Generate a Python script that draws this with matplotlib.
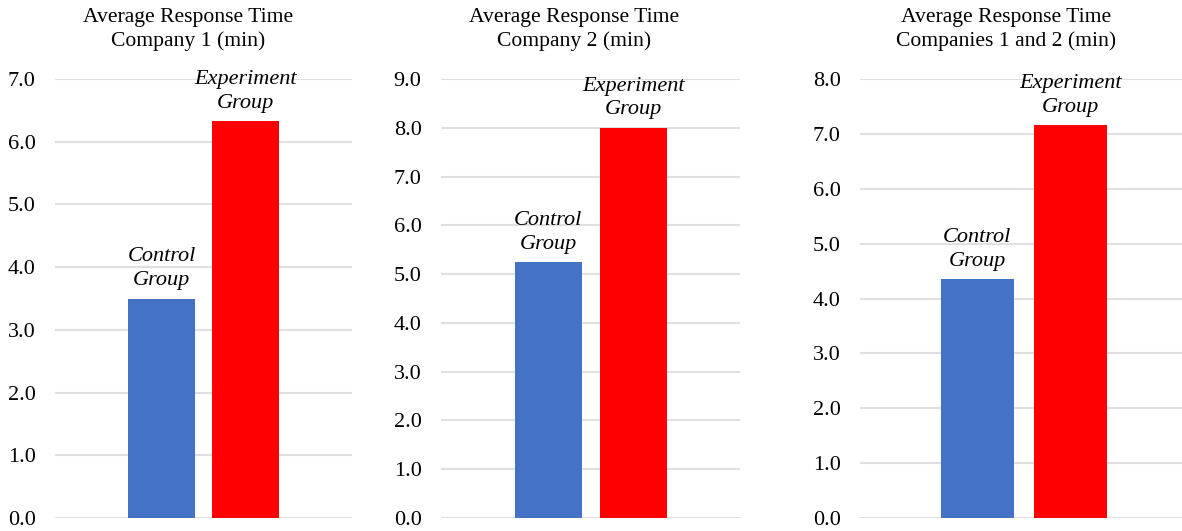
import matplotlib.pyplot as plt

plt.rcParams['font.family'] = ['Liberation Serif', 'DejaVu Serif']

titles = ["Average Response Time\nCompany 1 (min)",
          "Average Response Time\nCompany 2 (min)",
          "Average Response Time\nCompanies 1 and 2 (min)"]
groups = ["Control\nGroup", "Experiment\nGroup"]
control = [3.5, 5.25, 4.35]
experiment = [6.33, 8.0, 7.16]
ymax = [7, 9, 8]

colors = ["#4472C4", "#FF0000"]

fig = plt.figure(figsize=(11.82, 5.31), dpi=100)

boxes = [(55, 352), (441, 740), (860, 1182)]
xlims = [(-1.27, 2.27), (-1.26, 2.25), (-1.25, 2.19)]
widths = [0.8, 0.79, 0.78]
title_x = [188, 574, 1006]

W, H = 1182, 531
for i in range(3):
    l, r = boxes[i]
    ax = fig.add_axes([l / W, 1 - 518 / H, (r - l) / W, (518 - 79) / H])
    vals = [control[i], experiment[i]]
    ax.bar([0, 1], vals, width=widths[i], color=colors, zorder=3)
    for x, v, g in zip([0, 1], vals, groups):
        ax.annotate(g, (x, v), xytext=(0, 6), textcoords='offset points',
                    ha='center', va='bottom', fontsize=16, style='italic',
                    linespacing=1.35)
    ax.set_xlim(*xlims[i])
    ax.set_ylim(0, ymax[i])
    ax.set_yticks(range(ymax[i] + 1))
    ax.set_yticklabels([f"{t:.1f}" for t in range(ymax[i] + 1)], fontsize=16)
    ax.set_xticks([])
    ax.tick_params(axis='y', length=0, pad=14)
    ax.grid(axis='y', color='#E0E0E0', linewidth=1.5, zorder=0)
    for s in ax.spines.values():
        s.set_visible(False)
    fig.text(title_x[i] / W, 1 - 8 / H, titles[i], ha='center', va='top',
             fontsize=15.6, linespacing=1.3)

fig.savefig("out.png", dpi=100)
